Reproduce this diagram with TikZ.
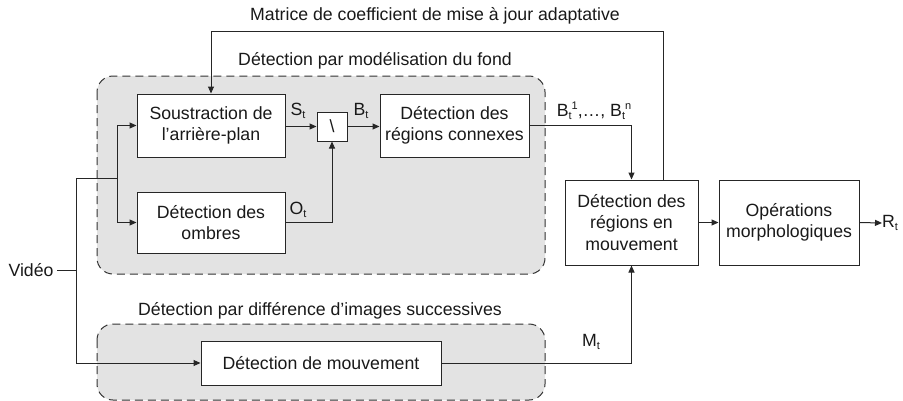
\documentclass[tikz,border=0pt]{standalone}
\usepackage{fontspec}
\setmainfont{Liberation Sans}
\usetikzlibrary{arrows.meta,calc}
\newcommand{\sbt}[1]{\raisebox{-3pt}{\fontsize{11}{11}\selectfont #1}}
\newcommand{\spt}[1]{\raisebox{7pt}{\fontsize{11}{11}\selectfont #1}}
\begin{document}
\begin{tikzpicture}[x=1pt,y=-1pt,
  every node/.style={font=\fontsize{17.7}{21.5}\selectfont, text=black!90},
  box/.style={draw=black!85, line width=1pt, fill=white, rectangle, inner sep=0pt, align=center},
  region/.style={draw=black!80, fill=black!11, line width=1pt, dash pattern=on 8pt off 5pt, rounded corners=16pt},
  line/.style={draw=black!85, line width=1pt},
  arr/.style={line, -{Triangle[length=7pt,width=6pt]}}]
\useasboundingbox (0,0) rectangle (903,400);
% regions
\draw[region] (97,76) rectangle (545,274);
\draw[region] (97,324) rectangle (545,400);
% labels of regions
\node (ttop) at (435,16) {Matrice de coefficient de mise à jour adaptative};
\node (treg1) at (375,61) {Détection par modélisation du fond};
\node (treg2) at (320,311) {Détection par différence d'images successives};
% boxes
\node[box, minimum width=148pt, minimum height=63pt] (sous) at (211,125.5) {Soustraction de\\l'arrière-plan};
\node[box, minimum width=30pt, minimum height=29pt] (bs) at (332,126.5) {\textbackslash};
\node[box, minimum width=149pt, minimum height=63pt] (conn) at (454.5,125.5) {Détection des\\régions connexes};
\node[box, minimum width=148pt, minimum height=61pt] (omb) at (211,222.5) {Détection des\\ombres};
\node[box, minimum width=240pt, minimum height=44pt] (mvt) at (321,363) {Détection de mouvement};
\node[box, minimum width=133pt, minimum height=85pt] (reg) at (631.5,222.5) {Détection des\\régions en\\mouvement};
\node[box, minimum width=140pt, minimum height=85pt] (ops) at (789,222.5) {Opérations\\morphologiques};
% side labels
\node (video) at (31,270) {Vidéo};
\node (St) at (298,111) {S\sbt{t}};
\node (Bt) at (361,111) {B\sbt{t}};
\node (Ot) at (298,210) {O\sbt{t}};
\node (Btn) at (594,111) {B\sbt{t}\spt{1},…, B\sbt{t}\spt{n}};
\node (Mt) at (591,342) {M\sbt{t}};
\node[anchor=west, inner sep=0pt] (Rt) at (882,223) {R\sbt{t}};
% coordinates
\coordinate (v0) at (76,270);
\coordinate (vtop) at (76,178);
\coordinate (vbot) at (76,363);
\coordinate (sp) at (117,178);
\coordinate (fbR) at (663,31);
\coordinate (fbL) at (211,31);
% connectors
\draw[line] (video.east) -- (v0);
\draw[line] (vtop) -- (vbot);
\draw[line] (vtop) -- (sp);
\draw[arr] (sp) |- (sous.west);
\draw[arr] (sp) |- (omb.west);
\draw[arr] (vbot) -- (mvt.west);
\draw[arr] (sous.east |- bs.west) -- (bs.west);
\draw[arr] (bs.east) -- (bs.east -| conn.west);
\draw[arr] (omb.east) -| (bs.south);
\draw[arr] (conn.east) -| (reg.north);
\draw[arr] (mvt.east) -| (reg.south);
\draw[arr] (reg.east) -- (ops.west);
\draw[arr] (ops.east) -- (Rt.west);
\draw[arr] (fbR |- reg.north) -- (fbR) -- (fbL) -- (sous.north);
\end{tikzpicture}
\end{document}
